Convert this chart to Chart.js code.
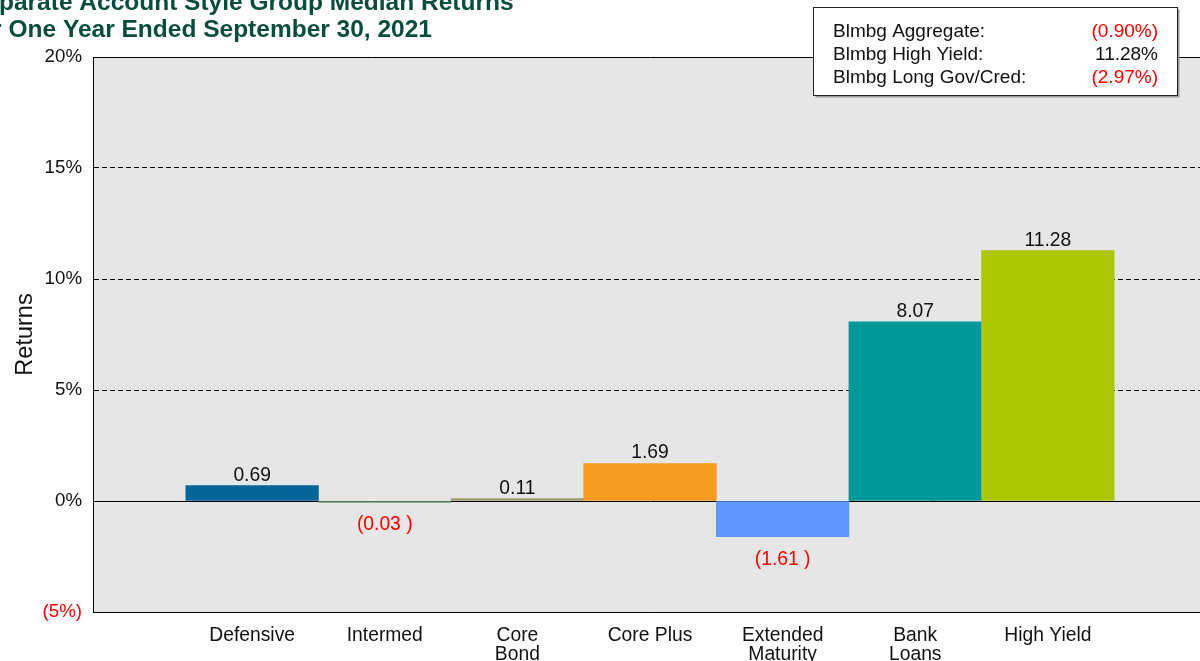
<!DOCTYPE html>
<html>
<head>
<meta charset="utf-8">
<script src="https://cdn.jsdelivr.net/npm/chart.js@4/dist/chart.umd.min.js"></script>
<style>
html,body{margin:0;padding:0;overflow:hidden;background:#fff;width:1200px;height:661px;}
#wrap{position:absolute;left:0;top:0;width:1207px;height:661px;}
</style>
</head>
<body>
<div id="wrap"><canvas id="c"></canvas></div>
<script>
// ---- data ----
const titleLines = ['Separate Account Style Group Median Returns', 'for One Year Ended September 30, 2021'];
const categories = [['Defensive'], ['Intermed'], ['Core', 'Bond'], ['Core Plus'], ['Extended', 'Maturity'], ['Bank', 'Loans'], ['High Yield']];
const returnsValues = [0.69, -0.03, 0.11, 1.69, -1.61, 8.07, 11.28];
const barColors = ['#03659a', '#6f9f6f', '#9c9c6c', '#f89a1f', '#5f97ff', '#009999', '#acc800'];
const benchNames = ['Blmbg Aggregate:', 'Blmbg High Yield:', 'Blmbg Long Gov/Cred:'];
const benchValues = [-0.90, 11.28, -2.97];
const yTicks = [-5, 0, 5, 10, 15, 20];

const FONT = '"Liberation Sans", Arial, sans-serif';
const RED = '#ff0000';
const TXT = '#111111';

const fmtBar = v => v < 0 ? '(' + Math.abs(v).toFixed(2) + ' )' : v.toFixed(2);
const fmtBench = v => v < 0 ? '(' + Math.abs(v).toFixed(2) + '%)' : v.toFixed(2) + '%';

const bgPlugin = {
  id: 'bg',
  beforeDraw(chart) {
    const {ctx, chartArea: a} = chart;
    ctx.save();
    ctx.fillStyle = '#e6e6e6';
    ctx.fillRect(a.left, a.top, a.right - a.left, a.bottom - a.top);
    ctx.restore();
  }
};

const labelPlugin = {
  id: 'labels',
  afterDatasetsDraw(chart) {
    const {ctx} = chart;
    const meta = chart.getDatasetMeta(0);
    ctx.save();
    ctx.font = '19.3px ' + FONT;
    ctx.textAlign = 'center';
    meta.data.forEach((bar, i) => {
      const v = returnsValues[i];
      const yz = chart.scales.y.getPixelForValue(0);
      if (v < 0) {
        ctx.fillStyle = RED;
        ctx.textBaseline = 'top';
        ctx.fillText(fmtBar(v), bar.x, Math.max(bar.y, yz + 1.5) + 13);
      } else {
        ctx.fillStyle = TXT;
        ctx.textBaseline = 'alphabetic';
        ctx.fillText(fmtBar(v), bar.x, bar.y - 5);
      }
    });
    ctx.restore();
  }
};

const decoPlugin = {
  id: 'deco',
  afterDraw(chart) {
    const {ctx} = chart;
    ctx.save();
    // title
    ctx.fillStyle = '#0b4d3c';
    ctx.font = 'bold 24.5px ' + FONT;
    ctx.textAlign = 'left';
    ctx.textBaseline = 'alphabetic';
    ctx.fillText(titleLines[0], -31, 10);
    ctx.fillText(titleLines[1], -31, 37);
    // benchmark box
    const bx = 813.5, by = 7.5, bw = 364, bh = 88;
    ctx.fillStyle = '#9a9a9a';
    ctx.fillRect(bx + 2, by + 2, bw, bh);
    ctx.fillStyle = '#ffffff';
    ctx.fillRect(bx, by, bw, bh);
    ctx.strokeStyle = '#222';
    ctx.lineWidth = 1;
    ctx.strokeRect(bx, by, bw, bh);
    ctx.font = '19px ' + FONT;
    benchNames.forEach((n, i) => {
      const yb = 36.7 + i * 23;
      ctx.textAlign = 'left';
      ctx.fillStyle = TXT;
      ctx.fillText(n, 833, yb);
      ctx.textAlign = 'right';
      ctx.fillStyle = benchValues[i] < 0 ? RED : TXT;
      ctx.fillText(fmtBench(benchValues[i]), 1158, yb);
    });
    ctx.restore();
  }
};

new Chart(document.getElementById('c'), {
  type: 'bar',
  data: {
    datasets: [{
      data: returnsValues.map((v, i) => ({x: i, y: v})),
      backgroundColor: barColors,
      borderWidth: 0,
      barPercentage: 1,
      categoryPercentage: 1,
      minBarLength: 1.5
    }]
  },
  options: {
    responsive: true,
    maintainAspectRatio: false,
    animation: false,
    devicePixelRatio: 1,
    layout: {padding: {top: 57, left: 0, right: 0, bottom: 0}},
    plugins: {legend: {display: false}, tooltip: {enabled: false}, title: {display: false}},
    scales: {
      x: {
        type: 'linear',
        offset: false,
        min: -1.2,
        max: 7.2,
        afterBuildTicks: s => { s.ticks = categories.map((c, i) => ({value: i})); },
        afterFit: s => { s.height = 49; },
        grid: {display: false, drawTicks: false, offset: false},
        border: {display: true, color: '#000', width: 1},
        ticks: {
          autoSkip: false,
          maxRotation: 0,
          padding: 14,
          color: TXT,
          font: {family: FONT, size: 19.3, lineHeight: 1.0},
          callback: v => categories[v]
        }
      },
      y: {
        min: -5,
        max: 20,
        afterBuildTicks: s => { s.ticks = yTicks.map(v => ({value: v})); },
        afterFit: s => { s.width = 93; },
        grid: {
          color: '#000',
          lineWidth: 1,
          drawTicks: false
        },
        border: {
          display: true,
          color: '#000',
          width: 1,
          dash: ctx => (ctx.tick && [5, 10, 15].includes(ctx.tick.value)) ? [5, 3] : []
        },
        ticks: {
          padding: 11,
          font: {family: FONT, size: 18.7},
          color: ctx => ctx.tick && ctx.tick.value < 0 ? RED : TXT,
          callback: v => v < 0 ? '(' + Math.abs(v) + '%)' : v + '%'
        },
        title: {
          display: true,
          text: 'Returns',
          color: TXT,
          font: {family: FONT, size: 23.5},
          padding: {top: 11, bottom: 0}
        }
      }
    }
  },
  plugins: [bgPlugin, labelPlugin, decoPlugin]
});
</script>
</body>
</html>
